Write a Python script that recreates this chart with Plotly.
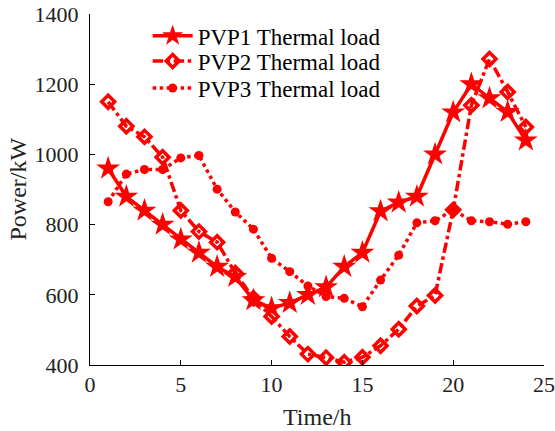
import plotly.graph_objects as go

hours = list(range(1, 25))
pvp1 = [960, 880, 840, 800, 758, 720, 680, 651, 585, 562, 577, 600, 622, 680, 720, 838, 863, 880, 1000, 1120, 1200, 1160, 1121, 1040]
pvp2 = [1150, 1080, 1050, 992, 840, 780, 750, 662, 590, 538, 481, 431, 421, 408, 422, 455, 502, 568, 598, 842, 1140, 1272, 1178, 1078]
pvp3 = [865, 944, 957, 957, 990, 997, 901, 836, 787, 704, 666, 625, 595, 590, 566, 642, 713, 805, 811, 842, 811, 808, 801, 808]
names = ["PVP1 Thermal load", "PVP2 Thermal load", "PVP3 Thermal load"]
x_ticks = [0, 5, 10, 15, 20, 25]
y_ticks = [400, 600, 800, 1000, 1200, 1400]

RED = "#FF0000"
FAM = "Liberation Serif, Times New Roman, serif"
fig = go.Figure()
fig.add_trace(go.Scatter(x=hours, y=pvp1, name=names[0], mode="lines+markers", legend="legend",
                         line=dict(color=RED, width=3.5, dash="solid"),
                         marker=dict(symbol="star", size=18, color=RED, line=dict(width=0))))
fig.add_trace(go.Scatter(x=hours, y=pvp2, name=names[1], mode="lines+markers", legend="legend2",
                         line=dict(color=RED, width=3.5, dash="dashdot"),
                         marker=dict(symbol="diamond-open", size=10, color=RED, line=dict(width=3.5, color=RED))))
fig.add_trace(go.Scatter(x=hours, y=pvp3, name=names[2], mode="lines+markers", legend="legend3",
                         line=dict(color=RED, width=3.5, dash="dot"),
                         marker=dict(symbol="circle", size=9, color=RED, line=dict(width=0))))

def leg(yc):
    return dict(x=0.127, y=yc, xanchor="left", yanchor="middle",
                bgcolor="rgba(0,0,0,0)", font=dict(family=FAM, size=23, color="black"),
                itemwidth=40)

fig.update_layout(
    width=555, height=431,
    margin=dict(l=90, r=11, t=14, b=66),
    paper_bgcolor="white", plot_bgcolor="white",
    font=dict(family=FAM, size=22, color="#222222"),
    showlegend=True,
    legend=leg(0.938), legend2=leg(0.866), legend3=leg(0.789),
    annotations=[
        dict(text="Time/h", xref="paper", yref="paper", x=0.5, y=0, yshift=-37,
             xanchor="center", yanchor="top", showarrow=False,
             font=dict(family=FAM, size=24, color="#222222")),
        dict(text="Power/kW", xref="paper", yref="paper", x=0, y=0.5, xshift=-73,
             xanchor="center", yanchor="middle", textangle=-90, showarrow=False,
             font=dict(family=FAM, size=24, color="#222222")),
    ],
)
fig.update_xaxes(range=[0, 25], tickvals=x_ticks, ticks="inside", ticklen=5, tickcolor="black",
                 showline=True, linecolor="black", linewidth=1, showgrid=False, zeroline=False,
                 automargin=False, tickfont=dict(size=22, family=FAM, color="#222222"))
fig.update_yaxes(range=[400, 1400], tickvals=y_ticks, ticks="inside", ticklen=5, tickcolor="black",
                 showline=True, linecolor="black", linewidth=1, showgrid=False, zeroline=False,
                 automargin=False, ticklabelstandoff=6,
                 tickfont=dict(size=22, family=FAM, color="#222222"))
fig.write_html("out.html")
